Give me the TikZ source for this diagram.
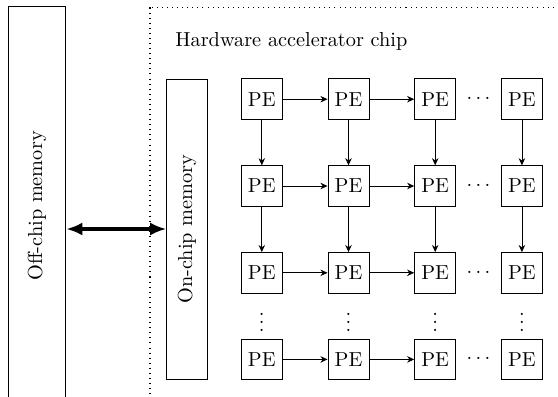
\documentclass[tikz,border=0pt]{standalone}
\usetikzlibrary{arrows.meta}
\begin{document}
\begin{tikzpicture}[x=0.4926pt,y=-0.4926pt,
  pe/.style={draw, minimum size=20pt, inner sep=3.33pt},
  link/.style={-{Stealth[length=3.5pt,width=3.2pt]}},
  membox/.style={draw, rotate=90, inner sep=0pt},
  chipedge/.style={dotted, line width=0.5pt},
  transfer/.style={{Latex[length=8pt,width=6.5pt]}-{Latex[length=8pt,width=6.5pt]}, ultra thick}]
\clip (0,0) rectangle (558,396);

% memories
\node[membox, minimum width=197pt, minimum height=28.4pt] (off) at (37,206) {Off-chip memory};
\draw[chipedge] (150,7.5) rectangle (620,460);
\node[anchor=base west, inner sep=0pt] (title) at (175,47) {Hardware accelerator chip};
\node[membox, minimum width=147.8pt, minimum height=20pt] (on) at (187,229) {On-chip memory};
\draw[transfer] (off.south |- on.north) -- (on.north);

% processing element grid
\foreach \c/\x in {1/261.8,2/348.5,3/435.2,4/521.9}{
  \foreach \r/\y in {1/99.2,2/186,3/272.8,4/359.4}{
    \node[pe] (pe\r\c) at (\x,\y) {PE};
  }
}
\foreach \r/\y in {1/99.2,2/186,3/272.8,4/359.4}{
  \node (hd\r) at (478.5,\y) {$\cdots$};
  \draw[link] (pe\r1) -- (pe\r2);
  \draw[link] (pe\r2) -- (pe\r3);
}
\foreach \c/\x in {1/261.8,2/348.5,3/435.2,4/521.9}{
  \node (vd\c) at (\x,316) {$\vdots$};
  \draw[link] (pe1\c) -- (pe2\c);
  \draw[link] (pe2\c) -- (pe3\c);
}
\end{tikzpicture}
\end{document}
